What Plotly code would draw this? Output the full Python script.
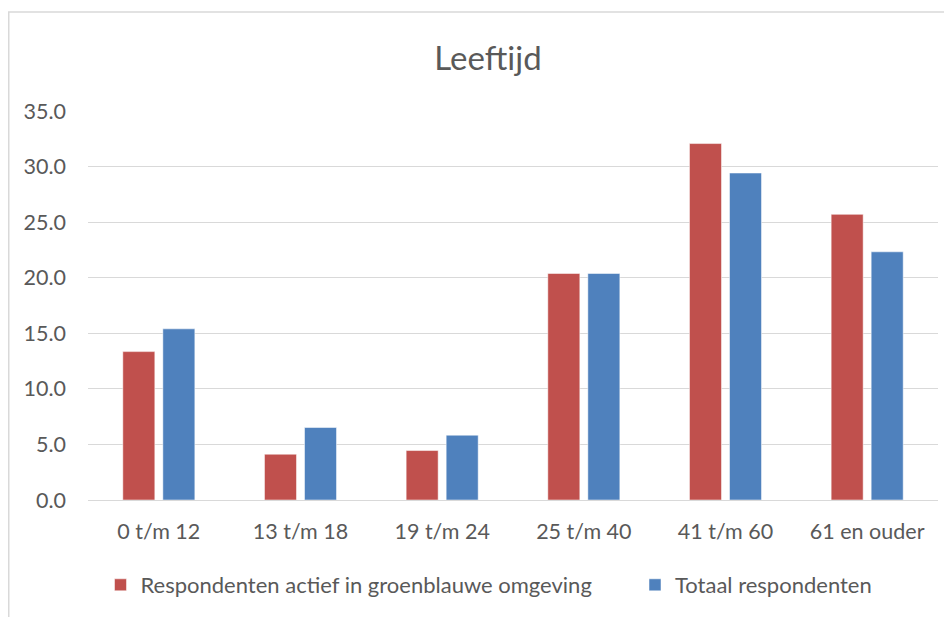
import plotly.graph_objects as go

categories = ["0 t/m 12", "13 t/m 18", "19 t/m 24", "25 t/m 40", "41 t/m 60", "61 en ouder"]
actief = [13.35, 4.12, 4.45, 20.38, 32.07, 25.7]
totaal = [15.4, 6.52, 5.83, 20.38, 29.42, 22.33]
series_names = ["Respondenten actief in groenblauwe omgeving", "Totaal respondenten"]
y_ticks = [0, 5, 10, 15, 20, 25, 30, 35]
y_tick_labels = [f"{v:.1f}" for v in y_ticks]

RED = "#C0504D"
BLUE = "#4F81BD"
TXT = "#595959"
GRID = "#D9D9D9"
FONT = "Lato, Carlito, Calibri, sans-serif"

# page body has an 8px margin; figure sized to fit the 952x617 window
W, H = 944, 609
L, R, T, B = 80, 14, 103, 117
pw, ph = W - L - R, H - T - B

fig = go.Figure()
fig.add_trace(go.Bar(x=categories, y=actief, name=series_names[0], legend="legend",
                     marker=dict(color=RED, line=dict(color="rgba(255,255,255,0.5)", width=1))))
fig.add_trace(go.Bar(x=categories, y=totaal, name=series_names[1], legend="legend2",
                     marker=dict(color=BLUE, line=dict(color="rgba(255,255,255,0.5)", width=1))))

def px2paper_x(px):
    return (px - L) / pw

def py2paper_y(py):
    return (H - B - py) / ph

legend_common = dict(orientation="h", yref="container", y=1 - 577 / H, yanchor="middle",
                     xref="container", xanchor="left",
                     font=dict(size=22, color=TXT), bgcolor="rgba(0,0,0,0)",
                     itemclick=False, itemdoubleclick=False)

fig.update_layout(
    width=W, height=H,
    margin=dict(l=L, r=R, t=T, b=B),
    paper_bgcolor="white", plot_bgcolor="white",
    font=dict(family=FONT, color=TXT, size=21),
    barmode="group", bargap=0.435, bargroupgap=0.2,
    title=dict(text="Leeftijd", font=dict(size=33, color=TXT, family=FONT),
               xref="paper", x=px2paper_x(480), xanchor="center",
               yref="container", y=1 - 50 / H, yanchor="middle"),
    xaxis=dict(showgrid=False, showline=False, zeroline=False, ticks="",
               tickfont=dict(size=21.5, color=TXT), ticklabelstandoff=16,
               automargin=False),
    yaxis=dict(range=[0, 35], tickvals=y_ticks, ticktext=y_tick_labels,
               showgrid=True, gridcolor=GRID, gridwidth=1.4,
               zeroline=True, zerolinecolor=GRID, zerolinewidth=1.4,
               showline=False, ticks="", tickfont=dict(size=21.5, color=TXT),
               ticklabelstandoff=21, automargin=False),
    legend=dict(x=92.5 / W, **legend_common),
    legend2=dict(x=627 / W, **legend_common),
    showlegend=True,
    shapes=[dict(type="rect", xref="paper", yref="paper",
                 x0=px2paper_x(0.75), x1=px2paper_x(970),
                 y0=py2paper_y(640), y1=py2paper_y(4),
                 line=dict(color=GRID, width=1.5), fillcolor="rgba(0,0,0,0)", layer="below")],
)

fig.write_html("out.html")
